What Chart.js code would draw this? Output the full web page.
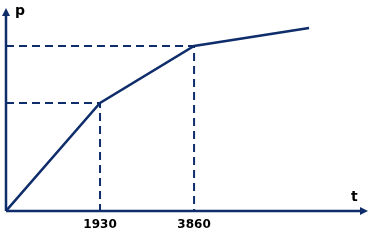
<!DOCTYPE html>
<html>
<head>
<meta charset="utf-8">
<script src="https://cdn.jsdelivr.net/npm/chart.js@4/dist/chart.umd.min.js"></script>
<style>
  html, body { margin: 0; padding: 0; background: #fff; }
  #wrap { width: 371px; height: 240px; }
</style>
</head>
<body>
<div id="wrap"><canvas id="myChart"></canvas></div>
<script>
// t and p of the broken line (p has no scale in the picture, read as pixel heights)
const tValues = [0, 1930, 3860, 6220];
const pValues = [0, 108, 165, 183];
// ticks written under the t axis
const tickValues = [1930, 3860];
const tickLabels = ['1930', '3860'];
const axisNames = { x: 't', y: 'p' };

const navy = '#0f2d6b';

function guide(i) {
  return [
    { x: 0, y: pValues[i] },
    { x: tValues[i], y: pValues[i] },
    { x: tValues[i], y: 0 }
  ];
}

const axesPlugin = {
  id: 'axesPlugin',
  afterDraw(chart) {
    const ctx = chart.ctx;
    const xs = chart.scales.x, ys = chart.scales.y;
    const x0 = xs.getPixelForValue(0), y0 = ys.getPixelForValue(0);
    const xEnd = chart.chartArea.right, yEnd = chart.chartArea.top;
    ctx.save();
    ctx.strokeStyle = navy;
    ctx.fillStyle = navy;
    ctx.lineWidth = 2.5;
    ctx.beginPath();
    ctx.moveTo(x0, y0);
    ctx.lineTo(xEnd - 5, y0);
    ctx.moveTo(x0, y0);
    ctx.lineTo(x0, yEnd + 5);
    ctx.stroke();
    // arrow heads
    ctx.beginPath();
    ctx.moveTo(xEnd, y0);
    ctx.lineTo(xEnd - 8, y0 - 4);
    ctx.lineTo(xEnd - 8, y0 + 4);
    ctx.closePath();
    ctx.fill();
    ctx.beginPath();
    ctx.moveTo(x0, yEnd);
    ctx.lineTo(x0 - 4, yEnd + 8);
    ctx.lineTo(x0 + 4, yEnd + 8);
    ctx.closePath();
    ctx.fill();

    ctx.fillStyle = '#000';
    ctx.font = 'bold 12px "DejaVu Sans"';
    ctx.textAlign = 'center';
    ctx.textBaseline = 'middle';
    for (let i = 0; i < tickValues.length; i++) {
      ctx.fillText(tickLabels[i], xs.getPixelForValue(tickValues[i]), y0 + 14);
    }
    ctx.font = 'bold 14px "DejaVu Sans"';
    ctx.textAlign = 'left';
    ctx.fillText(axisNames.y, x0 + 9, yEnd + 3);
    ctx.fillText(axisNames.x, xEnd - 17, y0 - 14);
    ctx.restore();
  }
};

const ctx = document.getElementById('myChart').getContext('2d');
const chart = new Chart(ctx, {
  type: 'line',
  data: {
    datasets: [
      {
        data: tValues.map((t, i) => ({ x: t, y: pValues[i] })),
        borderColor: navy,
        borderWidth: 2.5,
        pointRadius: 0,
        fill: false
      },
      {
        data: guide(1),
        borderColor: navy,
        borderWidth: 2,
        borderDash: [8, 5],
        pointRadius: 0,
        fill: false
      },
      {
        data: guide(2),
        borderColor: navy,
        borderWidth: 2,
        borderDash: [8, 5],
        pointRadius: 0,
        fill: false
      }
    ]
  },
  options: {
    responsive: true,
    maintainAspectRatio: false,
    animation: false,
    layout: { padding: { left: 6, top: 8, right: 3, bottom: 29 } },
    plugins: { legend: { display: false }, tooltip: { enabled: false } },
    scales: {
      x: { type: 'linear', min: 0, max: 7430, display: false },
      y: { type: 'linear', min: 0, max: 203, display: false }
    }
  },
  plugins: [axesPlugin]
});
</script>
</body>
</html>
